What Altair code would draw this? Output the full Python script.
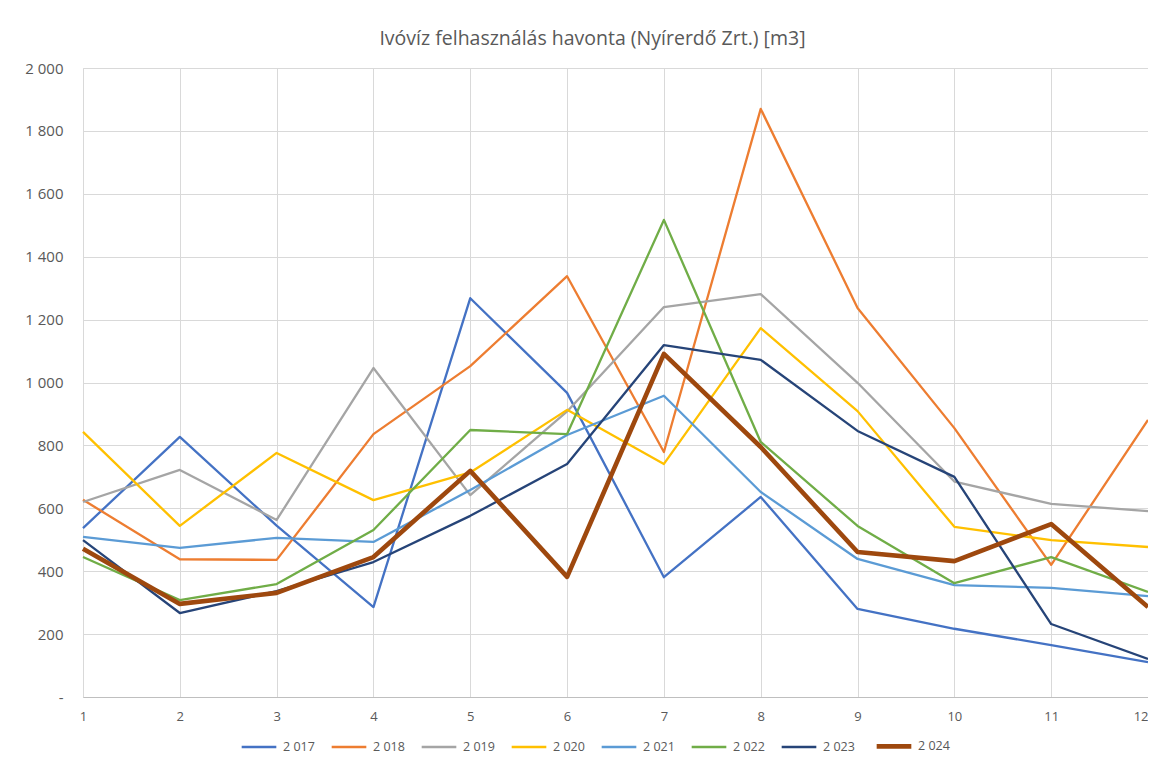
import altair as alt
import pandas as pd

months = list(range(1, 13))
years = ["2 017", "2 018", "2 019", "2 020", "2 021", "2 022", "2 023", "2 024"]
colors = ["#4472C4", "#ED7D31", "#A5A5A5", "#FFC000", "#5B9BD5", "#70AD47", "#264478", "#9E480E"]
widths = [2.3, 2.3, 2.3, 2.3, 2.3, 2.3, 2.3, 4.6]

v2017 = [537, 827, 545, 286, 1268, 967, 381, 636, 280, 217, 165, 111]
v2018 = [627, 438, 436, 836, 1052, 1338, 779, 1870, 1237, 855, 420, 881]
v2019 = [620, 722, 563, 1046, 642, 908, 1240, 1281, 999, 685, 614, 591]
v2020 = [843, 544, 776, 626, 714, 913, 741, 1173, 909, 541, 499, 477]
v2021 = [509, 474, 506, 493, 658, 833, 958, 652, 439, 356, 347, 321]
v2022 = [445, 308, 359, 531, 849, 836, 1517, 811, 544, 362, 445, 334]
v2023 = [499, 267, 337, 429, 576, 741, 1119, 1072, 846, 700, 232, 121]
v2024 = [471, 296, 331, 445, 719, 382, 1091, 795, 461, 432, 550, 286]

series = [v2017, v2018, v2019, v2020, v2021, v2022, v2023, v2024]

rows = []
for y, vals in zip(years, series):
    for m, v in zip(months, vals):
        rows.append({"month": m, "year": y, "value": v})
df = pd.DataFrame(rows)

font = "Open Sans"
txt = "#595959"
grid = "#D9D9D9"

leg = alt.Legend(title=None, orient="none", legendX=156, legendY=658,
                 direction="horizontal", columns=8,
                 symbolType="stroke", symbolSize=1200,
                 columnPadding=12,
                 labelFontSize=12.5, labelColor=txt, labelFont=font,
                 labelOffset=4)

chart = alt.Chart(df).mark_line(strokeJoin="round").encode(
    x=alt.X("month:Q",
            scale=alt.Scale(domain=[1, 12], nice=False),
            axis=alt.Axis(title=None, values=months, grid=True, gridColor=grid,
                          domainColor="#BFBFBF", ticks=False, labelPadding=13,
                          labelFontSize=13, labelColor=txt, labelFont=font,
                          labelFlush=False,
                          labelAlign={"condition": {"test": "datum.value == 12", "value": "right"},
                                      "value": "center"})),
    y=alt.Y("value:Q",
            scale=alt.Scale(domain=[0, 2000], nice=False),
            axis=alt.Axis(title=None, values=list(range(0, 2001, 200)), grid=True,
                          gridColor=grid, domain=False, ticks=False, labelPadding=20,
                          labelFontSize=15, labelColor=txt, labelFont=font,
                          labelExpr="datum.value == 0 ? '-' : replace(format(datum.value, ','), ',', ' ')")),
    color=alt.Color("year:N", scale=alt.Scale(domain=years, range=colors), legend=leg),
    strokeWidth=alt.StrokeWidth("year:N",
                                scale=alt.Scale(type="ordinal", domain=years, range=widths),
                                legend=leg),
    order=alt.Order("year:N"),
).properties(
    width=1065,
    height=629,
    title=alt.TitleParams("Ivóvíz felhasználás havonta (Nyírerdő Zrt.) [m3]",
                          font=font, fontSize=19.5, fontWeight="normal", color=txt,
                          anchor="middle", dx=-23, offset=12),
    autosize=alt.AutoSizeParams(type="none"),
    padding={"left": 75, "top": 60, "right": 0, "bottom": 57},
).configure_view(stroke=None).configure(background="white")

chart.save("out.html", embed_options={"renderer": "svg", "actions": False})
